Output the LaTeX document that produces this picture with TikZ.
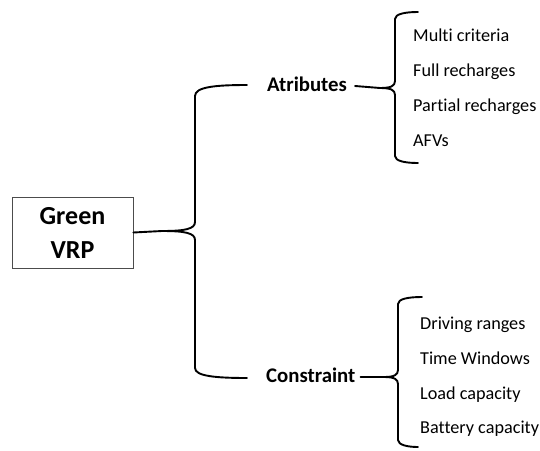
\documentclass[tikz,border=0pt]{standalone}
\usepackage{fontspec}
\setmainfont{Carlito}[Ligatures={NoCommon}]
\begin{document}
\begin{tikzpicture}[x=1pt,y=-1pt,
  brace/.style={line width=1.9pt,line cap=round,line join=round},
  rootbox/.style={draw=black!70,line width=0.8pt,minimum width=121pt,minimum height=71pt,
    inner sep=0pt,align=center,font=\bfseries\fontsize{26}{34}\selectfont},
  branch/.style={anchor=west,inner sep=0pt,text height=14pt,text depth=4pt,
    font=\bfseries\fontsize{20.8}{24}\selectfont},
  leaf/.style={anchor=west,inner sep=0pt,text height=12.5pt,text depth=0pt,
    font=\fontsize{18.2}{20}\selectfont}]
\useasboundingbox (0,0) rectangle (540,450);

% root
\node[rootbox] (root) at (72.5,232.5) {Green\\VRP};

% branches
\node[branch] (attr) at (267,86) {Atributes};
\node[branch] (cons) at (266,377) {Constraint};

% leaves of the first branch
\node[leaf] (a1) at (413,35) {Multi criteria};
\node[leaf] (a2) at (413,70) {Full recharges};
\node[leaf] (a3) at (413,105) {Partial recharges};
\node[leaf] (a4) at (413,140) {AFVs};

% leaves of the second branch
\node[leaf] (c1) at (420,323) {Driving ranges};
\node[leaf] (c2) at (420,358) {Time Windows};
\node[leaf] (c3) at (420,393) {Load capacity};
\node[leaf] (c4) at (420,427) {Battery capacity};

% arm ends of the braces
\coordinate (bigtop) at (247,85);
\coordinate (bigbot) at (247,378);
\coordinate (atop) at (418,12);
\coordinate (abot) at (418,163);
\coordinate (ctop) at (422,297);
\coordinate (cbot) at (418,447);

% large brace from the root
\draw[brace] (root.east) -- (162,231)
  .. controls (185,231) and (195,229) .. (195,222) -- (195,96)
  .. controls (195,87) and (215,85) .. (bigtop);
\draw[brace] (162,231)
  .. controls (185,231) and (195,233) .. (195,240) -- (195,368)
  .. controls (195,376) and (215,378) .. (bigbot);

% brace of the first branch
\draw[brace] ([xshift=8pt]attr.east) -- (380,88)
  .. controls (391,88) and (395,86) .. (395,81) -- (395,19)
  .. controls (395,14) and (405,12) .. (atop);
\draw[brace] (380,88)
  .. controls (391,88) and (395,90) .. (395,95) -- (395,156)
  .. controls (395,161) and (405,163) .. (abot);

% brace of the second branch
\draw[brace] ([xshift=5pt]cons.east) -- (384,377)
  .. controls (394,377) and (398,375) .. (398,370) -- (398,304)
  .. controls (398,299) and (408,297) .. (ctop);
\draw[brace] (384,377)
  .. controls (394,377) and (398,379) .. (398,384) -- (398,440)
  .. controls (398,445) and (408,447) .. (cbot);
\end{tikzpicture}
\end{document}
